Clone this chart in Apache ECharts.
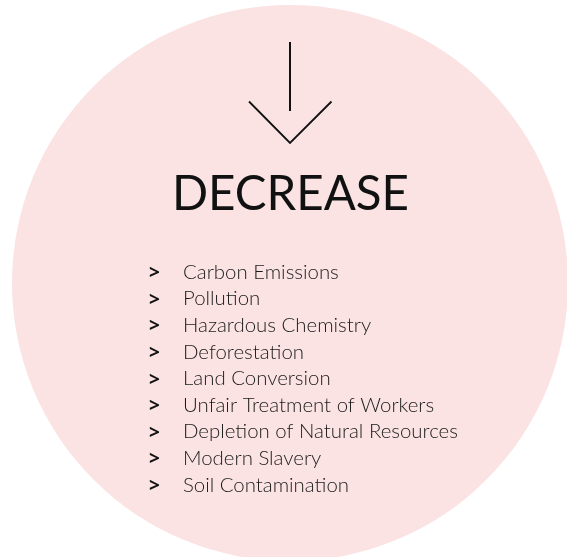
<!DOCTYPE html>
<html>
<head>
<meta charset="utf-8">
<script src="https://cdn.jsdelivr.net/npm/echarts@6/dist/echarts.min.js"></script>
<style>
  html, body { margin: 0; padding: 0; background: #fff; }
  #chart { width: 567px; height: 557px; }
</style>
</head>
<body>
<div id="chart"></div>
<script>
const heading = 'DECREASE'
const items = [
    'Carbon Emissions',
    'Pollution',
    'Hazardous Chemistry',
    'Deforestation',
    'Land Conversion',
    'Unfair Treatment of Workers',
    'Depletion of Natural Resources',
    'Modern Slavery',
    'Soil Contamination'
]
const bullet = '>'

const chart = echarts.init(document.getElementById('chart'))

const cx = 290
const listTop = 272
const rowGap = 26.65

const listGraphics = []
items.forEach((label, i) => {
    const y = listTop + i * rowGap
    listGraphics.push({
        type: 'text',
        x: 149, y: y + 1.5,
        style: {
            text: bullet,
            font: 'bold 19px "Noto Sans"',
            fill: '#111',
            textVerticalAlign: 'middle'
        }
    })
    listGraphics.push({
        type: 'text',
        x: 183, y: y,
        style: {
            text: label,
            font: '300 20.4px Lato',
            fill: '#1a1a1a',
            textVerticalAlign: 'middle'
        }
    })
})

chart.setOption({
    backgroundColor: '#ffffff',
    animation: false,
    graphic: [
        {
            type: 'circle',
            shape: { cx: cx, cy: 283, r: 278 },
            style: { fill: '#fbe3e4' }
        },
        {
            type: 'polyline',
            shape: { points: [[cx, 42], [cx, 111]] },
            style: { stroke: '#111', lineWidth: 2, fill: null }
        },
        {
            type: 'polyline',
            shape: { points: [[249, 101.5], [cx, 143], [331.5, 101.5]] },
            style: { stroke: '#111', lineWidth: 1.8, fill: null }
        },
        {
            type: 'text',
            x: cx + 0.5, y: 195,
            style: {
                text: heading,
                font: '400 47.5px Lato',
                fill: '#111',
                textAlign: 'center',
                textVerticalAlign: 'middle'
            }
        },
        ...listGraphics
    ]
})
</script>
</body>
</html>
